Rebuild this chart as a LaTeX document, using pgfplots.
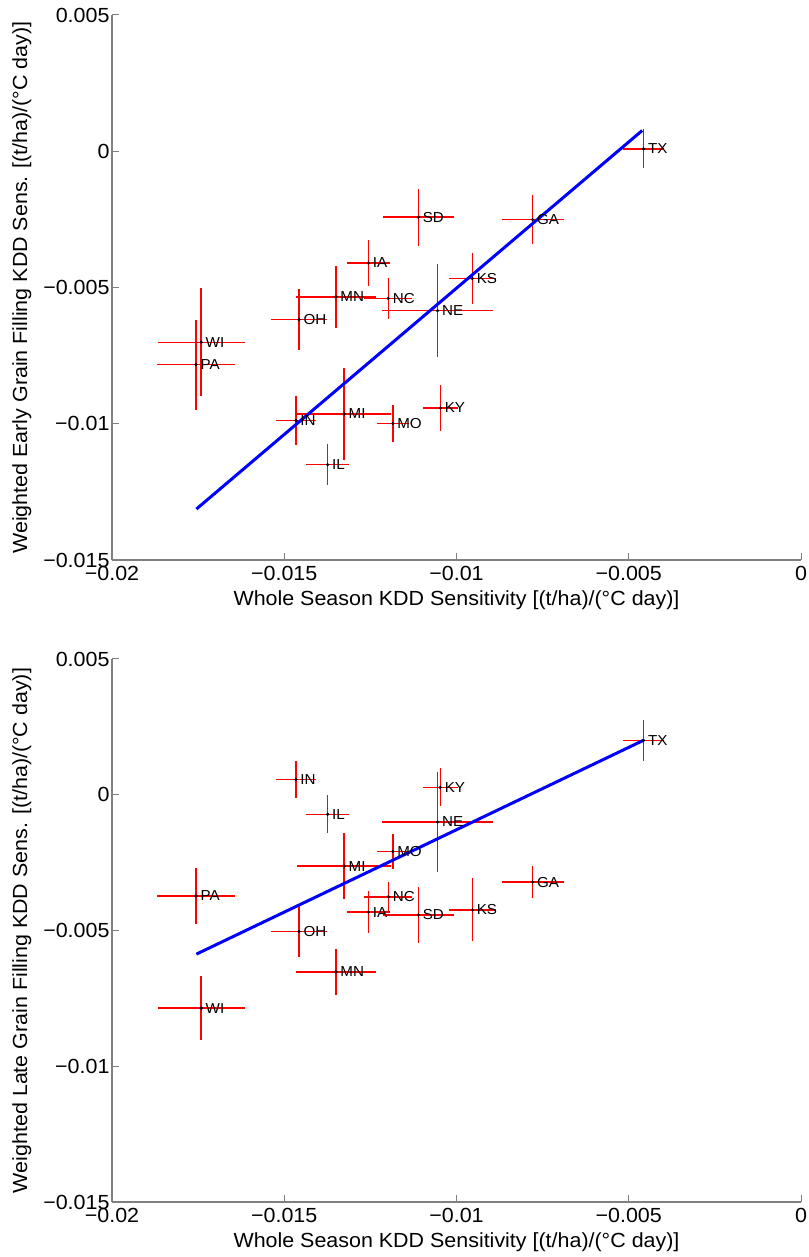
\documentclass[border=0pt]{standalone}
\usepackage{fontspec}
\setmainfont{Liberation Sans}[FakeStretch=1.05]
\usepackage{pgfplots}
\usepackage{pgfplotstable}
\pgfplotsset{compat=1.18}

% state, whole season sensitivity, weighted sensitivity, errors
\pgfplotstableread{
st x y ex ey
SD -0.01111 -0.00242 0.00103 0.00105
IA -0.01256 -0.00410 0.00063 0.00086
MN -0.01350 -0.00535 0.00117 0.00114
NC -0.01198 -0.00540 0.00070 0.00076
OH -0.01457 -0.00618 0.00081 0.00113
WI -0.01741 -0.00701 0.00126 0.00198
PA -0.01756 -0.00783 0.00114 0.00165
IN -0.01466 -0.00988 0.00059 0.00090
MI -0.01326 -0.00964 0.00137 0.00170
MO -0.01185 -0.00999 0.00047 0.00067
IL -0.01374 -0.01150 0.00062 0.00075
KY -0.01047 -0.00942 0.00051 0.00084
NE -0.01055 -0.00585 0.00160 0.00170
KS -0.00954 -0.00467 0.00068 0.00092
GA -0.00779 -0.00251 0.00090 0.00089
TX -0.00457 0.00009 0.00059 0.00071
}\early

\pgfplotstableread{
st x y ex ey
SD -0.01111 -0.00443 0.00103 0.00103
IA -0.01256 -0.00432 0.00063 0.00078
MN -0.01350 -0.00652 0.00117 0.00085
NC -0.01198 -0.00376 0.00070 0.00054
OH -0.01457 -0.00504 0.00081 0.00094
WI -0.01741 -0.00786 0.00126 0.00119
PA -0.01756 -0.00373 0.00114 0.00104
IN -0.01466 0.00056 0.00059 0.00069
MI -0.01326 -0.00263 0.00137 0.00122
MO -0.01185 -0.00209 0.00047 0.00063
IL -0.01374 -0.00072 0.00062 0.00070
KY -0.01047 0.00027 0.00051 0.00070
NE -0.01055 -0.00100 0.00160 0.00183
KS -0.00954 -0.00424 0.00068 0.00116
GA -0.00779 -0.00322 0.00090 0.00059
TX -0.00457 0.00200 0.00059 0.00077
}\late

\pgfplotsset{
  kdd/.style={
    scale only axis,
    width=689bp, height=545bp,
    xmin=-0.02, xmax=0, ymin=-0.015, ymax=0.005,
    scaled ticks=false,
    axis x line*=bottom, axis y line*=left,
    axis line style={-, black!50, line width=1.3bp},
    tick style={black!50, line width=1bp},
    major tick length=7bp, tick align=inside,
    xtick={-0.02,-0.015,-0.01,-0.005,0},
    xticklabels={−0.02,−0.015,−0.01,−0.005,0},
    ytick={-0.015,-0.01,-0.005,0,0.005},
    yticklabels={−0.015,−0.01,−0.005,0,0.005},
    tick label style={font=\fontsize{20.5}{22}\selectfont},
    label style={font=\fontsize{20.5}{22}\selectfont},
    xticklabel style={yshift=-3bp},
    yticklabel style={xshift=1bp},
    xlabel={Whole Season KDD Sensitivity [(t/ha)/(°C day)]},
    xlabel style={yshift=-3bp},
    ylabel style={yshift=5bp},
    clip=false,
  },
  bars/.style={
    draw=none, mark=none, forget plot,
    error bars/x dir=both, error bars/x explicit,
    error bars/y dir=both, error bars/y explicit,
    error bars/error mark=none,
    error bars/error bar style={red, line width=1.5bp, solid},
  },
  states/.style={
    only marks, mark=*, mark size=1.4bp, black,
    nodes near coords={\pgfplotspointmeta},
    point meta=explicit symbolic,
    every node near coord/.append style={anchor=west, xshift=1bp, black,
      font=\fontsize{14.5}{16}\selectfont},
  },
}

\begin{document}
\begin{tikzpicture}
\begin{axis}[kdd, at={(112bp,697bp)}, anchor=south west,
    ylabel={Weighted Early Grain Filling KDD Sens. [(t/ha)/(°C day)]}]
\addplot[bars] table[x=x, y=y, x error=ex, y error=ey] {\early};
\addplot[states] table[x=x, y=y, meta=st] {\early};
\addplot[blue, line width=3bp] coordinates {(-0.01755,-0.01313) (-0.00461,0.00076)};
\end{axis}

\begin{axis}[kdd, height=543bp, at={(112bp,55bp)}, anchor=south west,
    ylabel={Weighted Late Grain Filling KDD Sens. [(t/ha)/(°C day)]}]
\addplot[bars] table[x=x, y=y, x error=ex, y error=ey] {\late};
\addplot[states] table[x=x, y=y, meta=st] {\late};
\addplot[blue, line width=3bp] coordinates {(-0.01755,-0.00587) (-0.00458,0.00200)};
\end{axis}
\pgfresetboundingbox
\path[use as bounding box] (0,0) rectangle (809bp,1257bp);
\end{tikzpicture}
\end{document}
